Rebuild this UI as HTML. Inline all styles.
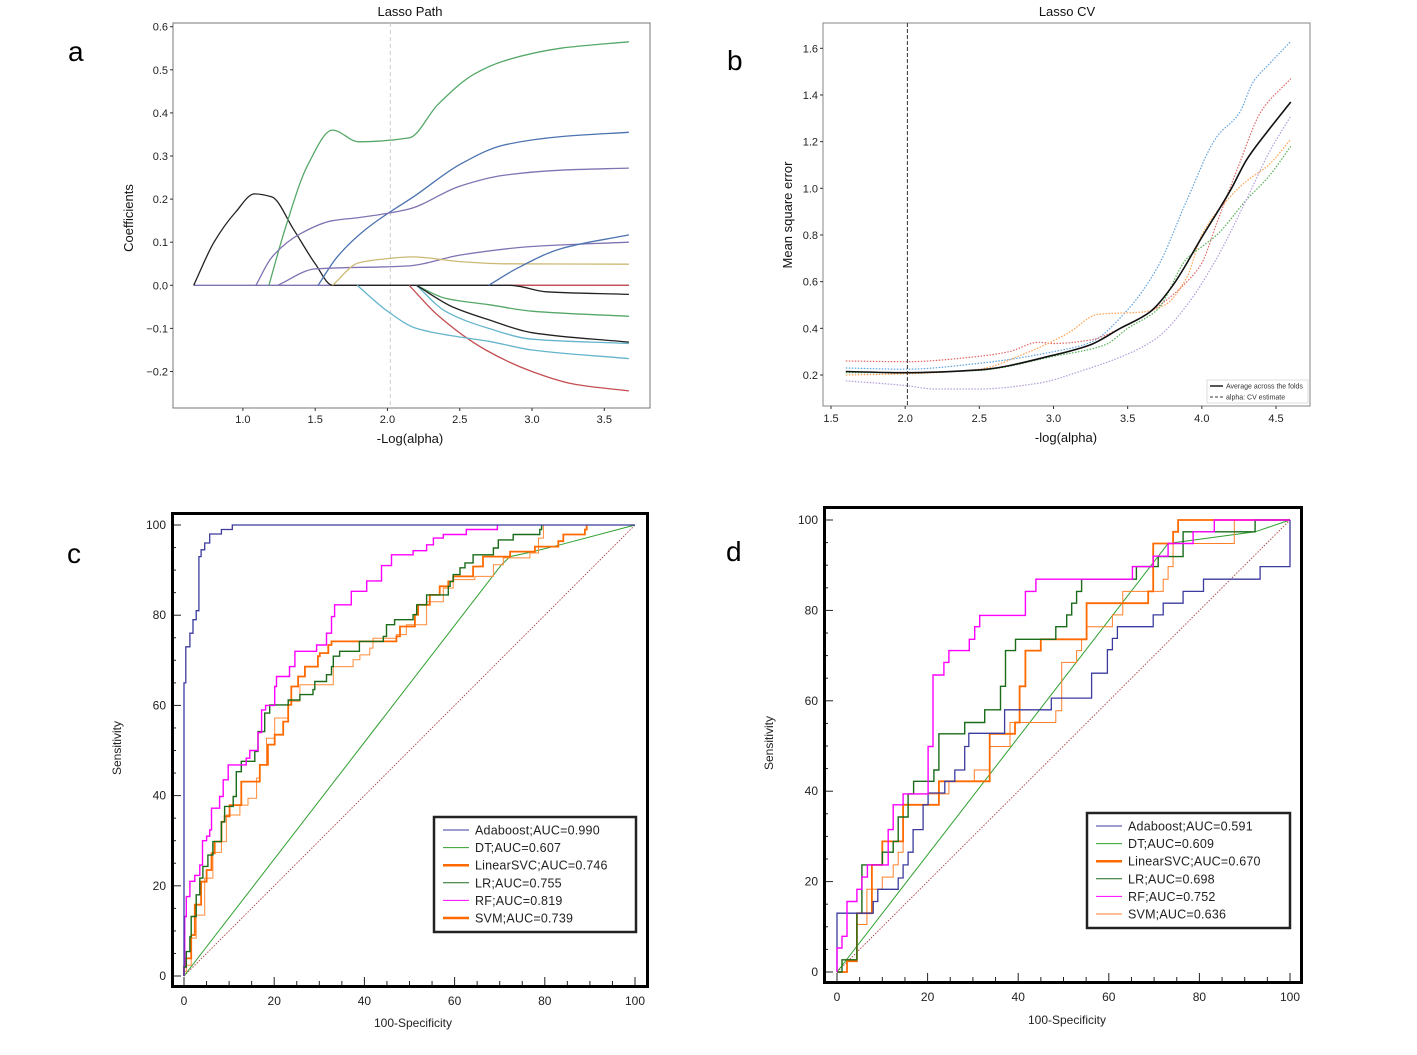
<!DOCTYPE html>
<html><head><meta charset="utf-8">
<style>
html,body{margin:0;padding:0;background:#fff;}
svg{display:block;font-family:"Liberation Sans",sans-serif;}
</style></head>
<body>
<svg id="fig" width="1417" height="1055" viewBox="0 0 1417 1055" xmlns="http://www.w3.org/2000/svg">
<rect x="0" y="0" width="1417" height="1055" fill="#fff"/>
<text x="68" y="61" font-size="28">a</text>
<text x="727" y="70" font-size="28">b</text>
<text x="67" y="563" font-size="28">c</text>
<text x="726" y="561" font-size="28">d</text>
<g id="pa"></g>
<g id="pb"></g>
<g id="pc"></g>
<g id="pd"></g>
</svg>
<script>
// ---------- Panel a data ----------
const aXTicks = [1.0,1.5,2.0,2.5,3.0,3.5];
const aYTicks = [0.6,0.5,0.4,0.3,0.2,0.1,0.0,-0.1,-0.2];
const aYTickLabels = ["0.6","0.5","0.4","0.3","0.2","0.1","0.0","\u22120.1","\u22120.2"];
const aAlpha = 2.02;
const aZeroX = [0.66,3.67];
const aZeroY = [0,0];
const aBlack1X = [0.66,0.8,0.95,1.08,1.2,1.35,1.5,1.62,2.85,3.1,3.67];
const aBlack1Y = [0,0.1,0.17,0.212,0.205,0.13,0.05,0,0,-0.015,-0.021];
const aGreen1X = [1.18,1.3,1.45,1.62,1.8,2.15,2.35,2.6,2.8,3.2,3.67];
const aGreen1Y = [0,0.14,0.28,0.36,0.333,0.342,0.42,0.49,0.52,0.55,0.565];
const aBlue1X = [1.52,1.65,1.85,2.2,2.5,2.8,3.2,3.67];
const aBlue1Y = [0,0.065,0.13,0.21,0.28,0.325,0.345,0.355];
const aPurple1X = [1.09,1.2,1.4,1.62,1.8,2.15,2.5,2.8,3.2,3.67];
const aPurple1Y = [0,0.065,0.12,0.15,0.157,0.177,0.23,0.255,0.267,0.272];
const aPurple2X = [1.24,1.5,2.15,2.5,3.0,3.67];
const aPurple2Y = [0,0.038,0.045,0.07,0.09,0.1];
const aTanX = [1.62,1.8,2.0,2.17,2.5,2.8,3.67];
const aTanY = [0,0.052,0.062,0.066,0.055,0.05,0.049];
const aBlue2X = [2.7,2.9,3.2,3.67];
const aBlue2Y = [0,0.04,0.085,0.117];
const aRed1X = [2.8,3.67];
const aRed1Y = [0,0];
const aRed2X = [2.15,2.35,2.68,3.0,3.3,3.67];
const aRed2Y = [0,-0.07,-0.15,-0.2,-0.23,-0.245];
const aCyan1X = [1.79,2.0,2.2,2.5,2.7,3.0,3.67];
const aCyan1Y = [0,-0.06,-0.1,-0.12,-0.13,-0.15,-0.17];
const aCyan2X = [2.2,2.4,2.7,3.0,3.67];
const aCyan2Y = [0,-0.06,-0.1,-0.125,-0.135];
const aGreen2X = [2.2,2.4,2.7,3.0,3.67];
const aGreen2Y = [0,-0.03,-0.045,-0.06,-0.072];
const aBlack2X = [2.2,2.45,2.7,3.0,3.67];
const aBlack2Y = [0,-0.05,-0.08,-0.11,-0.132];

// ---------- Panel b data ----------
const bXTicks = [1.5,2.0,2.5,3.0,3.5,4.0,4.5];
const bYTicks = [0.2,0.4,0.6,0.8,1.0,1.2,1.4,1.6];
const bAlpha = 2.015;
const bAvgX = [1.6,2.0,2.5,3.0,3.25,3.45,3.65,3.8,4.0,4.2,4.3,4.45,4.6];
const bAvgY = [0.215,0.21,0.222,0.285,0.33,0.4,0.47,0.58,0.79,1.0,1.12,1.25,1.37];
const bBlueX = [1.6,2.0,2.5,3.0,3.25,3.5,3.7,3.9,4.1,4.25,4.35,4.45,4.6];
const bBlueY = [0.23,0.225,0.25,0.3,0.34,0.48,0.66,0.95,1.22,1.32,1.46,1.53,1.63];
const bRedX = [1.6,2.0,2.5,2.7,2.9,3.0,3.25,3.45,3.65,3.9,4.0,4.1,4.25,4.4,4.6];
const bRedY = [0.26,0.257,0.28,0.3,0.34,0.335,0.35,0.4,0.47,0.6,0.68,0.85,1.1,1.33,1.47];
const bOrangeX = [1.6,2.0,2.5,2.8,3.1,3.3,3.6,3.75,3.9,4.0,4.2,4.3,4.45,4.6];
const bOrangeY = [0.2,0.205,0.225,0.29,0.38,0.46,0.47,0.5,0.62,0.8,0.97,1.03,1.1,1.21];
const bGreenX = [1.6,2.0,2.5,3.0,3.35,3.5,3.7,3.9,4.0,4.1,4.3,4.45,4.6];
const bGreenY = [0.21,0.21,0.22,0.28,0.33,0.4,0.48,0.7,0.75,0.8,0.95,1.05,1.18];
const bPurpleX = [1.6,2.0,2.2,2.5,2.9,3.2,3.5,3.7,3.9,4.1,4.3,4.45,4.6];
const bPurpleY = [0.175,0.155,0.14,0.14,0.165,0.22,0.29,0.36,0.5,0.7,0.95,1.15,1.31];

// ---------- Panel c data ----------
const rocTicks = [0,20,40,60,80,100];
const cLegend = ["Adaboost;AUC=0.990","DT;AUC=0.607","LinearSVC;AUC=0.746","LR;AUC=0.755","RF;AUC=0.819","SVM;AUC=0.739"];
const cAdaFx = [0,0.4,1.3,2,2.7,3.3,3.8,4.6,5.7,8.3,10.7,100];
const cAdaTy = [65,73,76,79,81,93,94.5,96,98,99,100,100];
const cRfFx = [0,0.15,0.5,1.3,2.4,3.5,4.1,5,5.7,6.1,7.9,8.7,9.8,13.8,14.6,16.4,17.2,18.1,20.1,20.5,23.4,24.6,29.4,31.6,32.7,33.4,37.1,40.5,43.8,46,50.8,53.8,55.3,57.5,62.6,69.5];
const cRfTy = [2.4,13.2,17.6,21,22.3,24.6,30,31,32.4,37.2,39.8,43.5,46.8,48.3,50,54,59,60,64.2,66.4,68.6,72,73.4,76,79.7,82.3,85.3,87.6,91,93.4,94.3,95.6,97.1,97.9,99,100];
const cLrFx = [0,0.5,1.3,1.6,2.7,3.5,4.2,5.3,6.4,8.3,9,10.9,11.6,12.7,15.7,16.4,17.9,19,23.1,25.7,28.6,29,31.6,32.7,33.1,34.5,38.9,44.2,44.9,46.7,50.8,51.6,53.8,58.6,59,59.7,61.2,62.3,64.1,68.6,69.7,73,78.9,79.3];
const cLrTy = [2,5.4,8.7,13.2,18,21.7,24.3,26.8,29.8,34.2,37.6,39.8,45.3,47.6,49.8,54.2,58.3,60.1,61.2,62.4,63.5,65.3,66.8,68.6,70.9,72,74.2,75.3,77.9,79,80.1,82.3,84.5,86.4,87.5,89,90.5,91.6,93.4,94.9,96.7,97.9,99,100];
const cLsvcFx = [0,0.4,1.6,2.4,3.8,5,6.1,6.8,8.3,9,10.1,12.7,16.8,18.6,20.1,22,23.1,23.8,25.3,26.8,29.7,30.1,32,32.7,47.1,47.9,51.2,51.9,54.5,56.7,58.6,59.7,64.1,66.3,72.3,77.8,83,84.1,88.9,89.3];
const cLsvcTy = [2,3.9,9.1,15.8,20.9,23.5,27.2,29.8,34.2,35.4,37.9,43.1,46.8,51.3,53.5,56.4,60.1,64.2,66.4,68.6,70.9,71.6,73.4,74.2,75.3,77.5,80.1,82.3,84.5,86.4,87.5,88.6,90.8,93,94.1,95.2,96.4,97.9,99,100];
const cSvmFx = [0,0.5,1.6,2.7,4.6,6.4,8.3,9.4,12.4,14.2,16.1,16.8,18.3,20.1,23.1,25.7,33.1,37.5,39,41.2,41.9,47.1,49.3,53.8,57.5,59.7,64.5,68.6,70.8,76.7,78.6,79.7];
const cSvmTy = [1,2.4,8.4,13.5,21.7,27.4,29.8,35.7,37.9,39.4,43.9,46.8,52.7,57.2,60.9,64.6,68.6,70.1,71.2,72.7,74.9,75.7,77.9,83,86,87.9,88.6,91.2,92.7,93.8,97.1,100];
const cDtX = [0,70.4,72.3,77.4,83.4,100];
const cDtY = [0,91.2,93,94.1,95.6,100];

// ---------- Panel d data ----------
const dLegend = ["Adaboost;AUC=0.591","DT;AUC=0.609","LinearSVC;AUC=0.670","LR;AUC=0.698","RF;AUC=0.752","SVM;AUC=0.636"];
const dAdaFx = [0,8,9,13.5,14.6,15.7,16.8,19,20.1,23.8,26,28.2,29.1,37,47.3,56.2,59.7,60.8,61.9,69.8,72,76.4,80.9,93.4,100];
const dAdaTy = [13,15.6,18.3,20.8,23.7,26.5,31.5,37,39.6,42.2,44.7,49.9,52.8,58,60.6,66.1,71.3,73.8,76.4,79,81.6,84.2,86.9,89.7,100];
const dRfFx = [0,1.1,2.2,4.4,5.5,6.7,11.3,12.4,14.6,20.1,21.2,23.6,24.7,29.2,30.4,31.5,41.6,43.9,65.2,69.8,73.1,78.6,83.3,100];
const dRfTy = [5.3,7.9,15.6,18.3,21,23.7,31.5,37,39.4,49.9,65.7,68.5,71.1,73.6,76.4,78.9,84.2,86.9,89.7,92,94.8,97.4,100,100];
const dLrFx = [0,1.1,4.4,5.5,10,12.4,13.5,15.7,16.9,21.4,22.5,28.2,32.6,36.1,37.2,39.4,48.3,50.7,51.8,52.9,54,66.1,70.9,76.4,92.3,100];
const dLrTy = [0,2.7,13,23.7,26.5,28.9,34.3,39.4,42.2,44.7,52.7,55.2,58,63.2,71.1,73.6,76.4,79,81.6,84.2,86.9,89.7,91.9,97.4,100,100];
const dLsvcFx = [0,2.2,4.4,7.7,10,14.6,22.5,33.7,39.3,40.3,41.6,45,55.1,68.7,69.8,74.2,75.3,100];
const dLsvcTy = [0,2.4,13,23.7,28.9,37,42.2,52.7,55.2,63.2,71.1,73.6,81.6,84.2,94.8,97.4,100,100];
const dSvmFx = [0,2.2,4.4,6.6,10,12.4,13.5,14.6,15.7,24.7,30.3,33.7,38.2,48.3,49.6,52.9,54,55.1,60.8,63.1,72,73.1,74.2,87.7,100];
const dSvmTy = [0,2.7,10.5,18.3,21,23.7,26.5,34.3,39.4,42.2,44.7,49.9,55.2,57.8,68.5,71.1,73.6,76.4,79,84.2,86.9,89.7,94.8,100,100];
const dDtX = [0,73.1,92.3,100];
const dDtY = [0,94.8,97.4,100];

// ---------- helpers ----------
const NS = "http://www.w3.org/2000/svg";
function mk(parent, tag, attrs){
  const e = document.createElementNS(NS, tag);
  for (const k in attrs) e.setAttribute(k, attrs[k]);
  parent.appendChild(e);
  return e;
}
function scale(d0,d1,p0,p1){ return v => p0 + (v-d0)*(p1-p0)/(d1-d0); }
function linePath(xs, ys, sx, sy){
  return xs.map((x,i)=>(i?'L':'M')+sx(x).toFixed(1)+','+sy(ys[i]).toFixed(1)).join('');
}
// monotone cubic (Fritsch-Carlson) in pixel space
function smoothPath(xs, ys, sx, sy){
  const n = xs.length;
  if (n < 3) return linePath(xs, ys, sx, sy);
  const X = xs.map(sx), Y = ys.map(sy);
  const h = [], s = [];
  for (let i=0;i<n-1;i++){ h[i]=X[i+1]-X[i]; s[i]=(Y[i+1]-Y[i])/h[i]; }
  const m = new Array(n);
  m[0]=s[0]; m[n-1]=s[n-2];
  for (let i=1;i<n-1;i++){
    if (s[i-1]*s[i] <= 0) m[i]=0;
    else m[i] = 3*(h[i-1]+h[i]) / ((2*h[i]+h[i-1])/s[i-1] + (h[i]+2*h[i-1])/s[i]);
  }
  let d = 'M'+X[0].toFixed(1)+','+Y[0].toFixed(1);
  for (let i=0;i<n-1;i++){
    const c1x = X[i]+h[i]/3, c1y = Y[i]+m[i]*h[i]/3;
    const c2x = X[i+1]-h[i]/3, c2y = Y[i+1]-m[i+1]*h[i]/3;
    d += 'C'+c1x.toFixed(1)+','+c1y.toFixed(1)+' '+c2x.toFixed(1)+','+c2y.toFixed(1)+' '+X[i+1].toFixed(1)+','+Y[i+1].toFixed(1);
  }
  return d;
}
function stepPath(fx, ty, sx, sy){
  let d = 'M'+sx(0).toFixed(1)+','+sy(0).toFixed(1);
  for (let i=0;i<fx.length;i++){
    d += 'H'+sx(fx[i]).toFixed(1)+'V'+sy(ty[i]).toFixed(1);
  }
  return d;
}

// ---------- Panel a ----------
(function(){
  const g = document.getElementById('pa');
  const sx = scale(1.0,3.5,242.9,604.3), sy = scale(0,0.6,285.3,26.7);
  const bx0=173, bx1=650, by0=23, by1=408;
  let e = mk(g,'rect',{x:bx0,y:by0,width:bx1-bx0,height:by1-by0,fill:'none',stroke:'#777','stroke-width':1});
   
  e = mk(g,'text',{x:410,y:16,'font-size':13,'text-anchor':'middle',fill:'#111'}); e.textContent='Lasso Path';
   
  e = mk(g,'text',{x:410,y:443,'font-size':13,'text-anchor':'middle',fill:'#111'}); e.textContent='-Log(alpha)';
   
  e = mk(g,'text',{x:133,y:218,'font-size':13,'text-anchor':'middle',fill:'#111',transform:'rotate(-90 133 218)'}); e.textContent='Coefficients';
   
  aXTicks.forEach(v=>{
    mk(g,'line',{x1:sx(v),x2:sx(v),y1:by1,y2:by1+3,stroke:'#333'});
    e = mk(g,'text',{x:sx(v),y:423,'font-size':11,'text-anchor':'middle',fill:'#222'}); e.textContent=v.toFixed(1);
     
  });
  aYTicks.forEach((v,i)=>{
    mk(g,'line',{x1:bx0-3,x2:bx0,y1:sy(v),y2:sy(v),stroke:'#333'});
    e = mk(g,'text',{x:168,y:sy(v)+4,'font-size':11,'text-anchor':'end',fill:'#222'}); e.textContent=aYTickLabels[i];
     
  });
  e = mk(g,'line',{x1:sx(aAlpha),x2:sx(aAlpha),y1:by0,y2:by1,stroke:'#ccc','stroke-dasharray':'4,3'});
   
  const series = [
    [aZeroX,aZeroY,'#8172b2','zero-line'],
    [aRed1X,aRed1Y,'#c44e52','coef-red-flat'],
    [aBlack1X,aBlack1Y,'#222','coef-black-1'],
    [aGreen1X,aGreen1Y,'#55a868','coef-green-1'],
    [aBlue1X,aBlue1Y,'#4c72b0','coef-blue-1'],
    [aPurple1X,aPurple1Y,'#8172b2','coef-purple-1'],
    [aPurple2X,aPurple2Y,'#8172b2','coef-purple-2'],
    [aTanX,aTanY,'#ccb974','coef-tan'],
    [aBlue2X,aBlue2Y,'#4c72b0','coef-blue-2'],
    [aRed2X,aRed2Y,'#c44e52','coef-red-2'],
    [aCyan1X,aCyan1Y,'#64b5cd','coef-cyan-1'],
    [aCyan2X,aCyan2Y,'#64b5cd','coef-cyan-2'],
    [aGreen2X,aGreen2Y,'#55a868','coef-green-2'],
    [aBlack2X,aBlack2Y,'#222','coef-black-2']
  ];
  series.forEach(s=>{
    const p = mk(g,'path',{d:smoothPath(s[0],s[1],sx,sy),fill:'none',stroke:s[2],'stroke-width':1.3});
    
    
  });
})();

// ---------- Panel b ----------
(function(){
  const g = document.getElementById('pb');
  const sx = scale(1.5,4.5,831,1276), sy = scale(0.2,1.6,375,48.3);
  const bx0=823, bx1=1310, by0=23, by1=406;
  let e = mk(g,'rect',{x:bx0,y:by0,width:bx1-bx0,height:by1-by0,fill:'none',stroke:'#999','stroke-width':1.2});
   
  e = mk(g,'text',{x:1067,y:16,'font-size':13,'text-anchor':'middle',fill:'#111'}); e.textContent='Lasso CV';
   
  e = mk(g,'text',{x:1066,y:442,'font-size':13,'text-anchor':'middle',fill:'#111'}); e.textContent='-log(alpha)';
   
  e = mk(g,'text',{x:792,y:215,'font-size':13,'text-anchor':'middle',fill:'#111',transform:'rotate(-90 792 215)'}); e.textContent='Mean square error';
   
  bXTicks.forEach(v=>{
    mk(g,'line',{x1:sx(v),x2:sx(v),y1:by1,y2:by1+3,stroke:'#333'});
    e = mk(g,'text',{x:sx(v),y:422,'font-size':11,'text-anchor':'middle',fill:'#222'}); e.textContent=v.toFixed(1);
     
  });
  bYTicks.forEach(v=>{
    mk(g,'line',{x1:bx0-3,x2:bx0,y1:sy(v),y2:sy(v),stroke:'#333'});
    e = mk(g,'text',{x:818,y:sy(v)+4,'font-size':11,'text-anchor':'end',fill:'#222'}); e.textContent=v.toFixed(1);
     
  });
  const folds = [
    [bBlueX,bBlueY,'#5fa2dd','fold-blue'],
    [bRedX,bRedY,'#e06666','fold-red'],
    [bOrangeX,bOrangeY,'#ffa04d','fold-orange'],
    [bGreenX,bGreenY,'#55b055','fold-green'],
    [bPurpleX,bPurpleY,'#b39ddb','fold-purple']
  ];
  folds.forEach(s=>{
    const p = mk(g,'path',{d:smoothPath(s[0],s[1],sx,sy),fill:'none',stroke:s[2],'stroke-width':1.2,'stroke-dasharray':'1.5,1.5'});
    
    
  });
  e = mk(g,'path',{d:smoothPath(bAvgX,bAvgY,sx,sy),fill:'none',stroke:'#111','stroke-width':1.6});
   
  e = mk(g,'line',{x1:sx(bAlpha),x2:sx(bAlpha),y1:by0,y2:by1,stroke:'#333','stroke-dasharray':'4,2'});
   
  e = mk(g,'rect',{x:1207,y:380,width:101,height:23,fill:'#fff',stroke:'#ddd'});
   
  mk(g,'line',{x1:1210,x2:1223,y1:386,y2:386,stroke:'#111','stroke-width':1.4});
  mk(g,'line',{x1:1210,x2:1223,y1:397,y2:397,stroke:'#333','stroke-dasharray':'3,2'});
  e = mk(g,'text',{x:1226,y:388.5,'font-size':7,fill:'#333'}); e.textContent='Average across the folds';
   
  e = mk(g,'text',{x:1226,y:399.5,'font-size':7,fill:'#333'}); e.textContent='alpha: CV estimate';
   
})();

// ---------- ROC panel builder ----------
function rocPanel(gid, box, ax, legBox, legend, curves, dtX, dtY, labelPos, suffix){
  const g = document.getElementById(gid);
  const sx = scale(0,100,ax.x0,ax.x1), sy = scale(0,100,ax.y0,ax.y1);
  let e;
  for (let v=0; v<=100; v+=5){
    const major = v%20===0;
    mk(g,'line',{x1:sx(v),x2:sx(v),y1:box.y1,y2:box.y1-(major?11:7),stroke:'#222','stroke-width':1});
    mk(g,'line',{x1:box.x0,x2:box.x0+(major?10:5),y1:sy(v),y2:sy(v),stroke:'#222','stroke-width':1});
  }
  rocTicks.forEach(v=>{
    e = mk(g,'text',{x:sx(v),y:box.y1+17,'font-size':12,'text-anchor':'middle',fill:'#222'}); e.textContent=String(v);
     
    e = mk(g,'text',{x:box.x0-5,y:sy(v)+4,'font-size':12,'text-anchor':'end',fill:'#222'}); e.textContent=String(v);
     
  });
  e = mk(g,'text',{x:labelPos.xx,y:labelPos.xy,'font-size':12,'text-anchor':'middle',fill:'#222'}); e.textContent='100-Specificity';
   
  e = mk(g,'text',{x:labelPos.yx,y:labelPos.yy,'font-size':12,'text-anchor':'middle',fill:'#222',transform:'rotate(-90 '+labelPos.yx+' '+labelPos.yy+')'}); e.textContent='Sensitivity';
   
  e = mk(g,'path',{d:linePath([0,100],[0,100],sx,sy),fill:'none',stroke:'#b05050','stroke-width':1,'stroke-dasharray':'1.5,1.5'});
   
  e = mk(g,'path',{d:linePath(dtX,dtY,sx,sy),fill:'none',stroke:'#2ea02e','stroke-width':1});
   
  curves.forEach(c=>{
    const p = mk(g,'path',{d:stepPath(c.fx,c.ty,sx,sy),fill:'none',stroke:c.color,'stroke-width':c.w});
    
    
  });
  e = mk(g,'rect',{x:box.x0+1.5,y:box.y0+1.5,width:box.x1-box.x0-3,height:box.y1-box.y0-3,fill:'none',stroke:'#000','stroke-width':3});
   
  e = mk(g,'rect',{x:legBox.x,y:legBox.y,width:legBox.w,height:legBox.h,fill:'#fff',stroke:'#222','stroke-width':2.5});
   
  const lc = [['#3b3b9f',1],['#2ea02e',1],['#ff6a00',2.5],['#1a6b1a',1],['#ff00ff',1],[suffix==='c'?'#ff6a00':'#ff7f27',suffix==='c'?2.5:1]];
  legend.forEach((t,i)=>{
    const yy = legBox.y+13+i*17.6;
    mk(g,'line',{x1:legBox.x+9,x2:legBox.x+35,y1:yy,y2:yy,stroke:lc[i][0],'stroke-width':lc[i][1]});
    const tx = mk(g,'text',{x:legBox.x+41,y:yy+4.5,'font-size':12.5,fill:'#222','letter-spacing':'0.2'});
    tx.textContent = t;
    
    
  });
}

rocPanel('pc',{x0:171,x1:649,y0:512,y1:988},{x0:184,x1:635,y0:976,y1:525},
  {x:434,y:817,w:202,h:115}, cLegend,
  [
    {fx:cSvmFx,ty:cSvmTy,color:'#ff8c3a',w:1,name:'roc-svm-c'},
    {fx:cLsvcFx,ty:cLsvcTy,color:'#ff6a00',w:1.8,name:'roc-linearsvc-c'},
    {fx:cLrFx,ty:cLrTy,color:'#1a6b1a',w:1.4,name:'roc-lr-c'},
    {fx:cRfFx,ty:cRfTy,color:'#ff00ff',w:1.4,name:'roc-rf-c'},
    {fx:cAdaFx,ty:cAdaTy,color:'#3b3b9f',w:1.3,name:'roc-adaboost-c'}
  ], cDtX, cDtY, {xx:413,xy:1027,yx:121,yy:748}, 'c');

rocPanel('pd',{x0:823,x1:1303,y0:506,y1:984},{x0:837,x1:1290,y0:972,y1:520},
  {x:1087,y:813,w:203,h:115}, dLegend,
  [
    {fx:dSvmFx,ty:dSvmTy,color:'#ff7f27',w:1,name:'roc-svm-d'},
    {fx:dLsvcFx,ty:dLsvcTy,color:'#ff6a00',w:1.8,name:'roc-linearsvc-d'},
    {fx:dLrFx,ty:dLrTy,color:'#1a6b1a',w:1.4,name:'roc-lr-d'},
    {fx:dAdaFx,ty:dAdaTy,color:'#3b3b9f',w:1.3,name:'roc-adaboost-d'},
    {fx:dRfFx,ty:dRfTy,color:'#ff00ff',w:1.4,name:'roc-rf-d'}
  ], dDtX, dDtY, {xx:1067,xy:1024,yx:773,yy:743}, 'd');
</script>
</body></html>
